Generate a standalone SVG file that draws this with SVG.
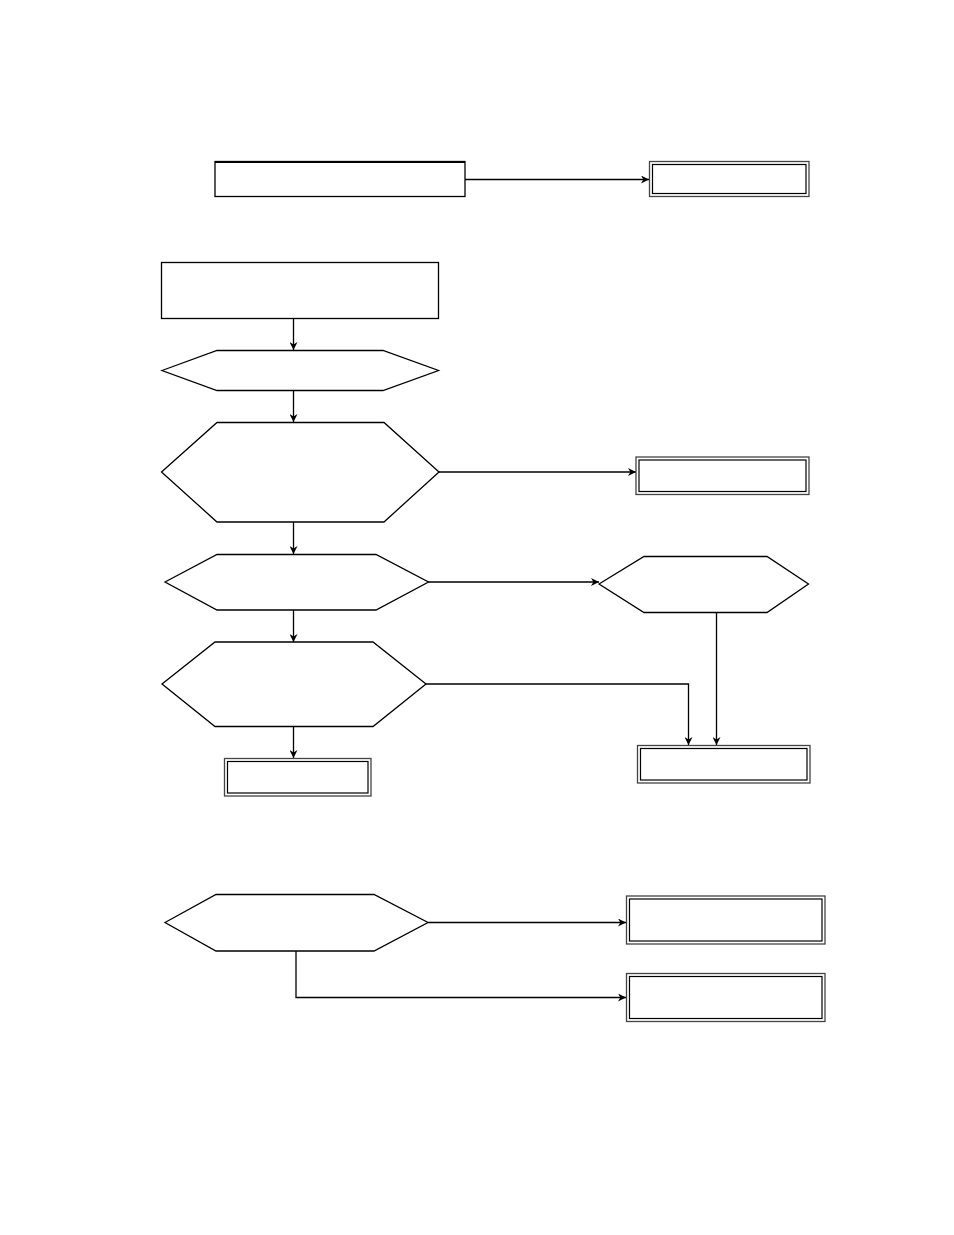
<svg xmlns="http://www.w3.org/2000/svg" width="954" height="1235" viewBox="0 0 954 1235">
<style>
.box{fill:#fff;stroke:#000;stroke-width:1.3}
.dbo{fill:#fff;stroke:#444;stroke-width:1.3}
.dbi{fill:none;stroke:#000;stroke-width:1.2}
.hex{fill:#fff;stroke:#000;stroke-width:1.3}
.con{fill:none;stroke:#000;stroke-width:1.3}
.arr{marker-end:url(#ah)}
</style>
<defs>
<marker id="ah" viewBox="0 0 10 10" refX="10" refY="5" markerWidth="8" markerHeight="8" markerUnits="userSpaceOnUse" orient="auto">
<path d="M0,0 L10,5 L0,10 L3,5 z" fill="#000"/>
</marker>
</defs>
<rect width="954" height="1235" fill="#fff"/>
<g id="connectors">
<path class="con arr" d="M465,179.5 H649"/>
<path class="con arr" d="M293.5,318 V350"/>
<path class="con arr" d="M293.5,390.5 V422"/>
<path class="con arr" d="M439,472 H636"/>
<path class="con arr" d="M293.5,522 V554"/>
<path class="con arr" d="M428,582 H599"/>
<path class="con arr" d="M716.5,612 V745"/>
<path class="con arr" d="M293.5,610 V642"/>
<path class="con arr" d="M426,684 H688.5 V745"/>
<path class="con arr" d="M293.5,726.5 V758"/>
<path class="con arr" d="M428,922.5 H626"/>
<path class="con arr" d="M296,951 V997.5 H626"/>
</g>
<g id="n1"><rect class="box" x="215" y="161.5" width="250" height="35"/><line x1="215" y1="162" x2="465" y2="162" stroke="#000" stroke-width="2.2"/></g>
<g id="n2"><rect class="dbo" x="649.5" y="161.5" width="159.5" height="35"/><rect class="dbi" x="652.5" y="164.5" width="153.5" height="29"/></g>
<g id="n3"><rect class="box" x="161.5" y="262.5" width="277" height="56"/></g>
<g id="n4"><polygon class="hex" points="162,370.5 217,350.5 383,350.5 438.5,370.5 383,390.5 217,390.5"/></g>
<g id="n5"><polygon class="hex" points="161.5,472 217,422.5 384,422.5 439,472 384,522 217,522"/></g>
<g id="n6"><rect class="dbo" x="636" y="457" width="173" height="37.5"/><rect class="dbi" x="639" y="460" width="167" height="31.5"/></g>
<g id="n7"><polygon class="hex" points="165,582 217,554.5 376,554.5 428.5,582 376,610 217,610"/></g>
<g id="n8"><polygon class="hex" points="599,584 644,556.5 767,556.5 808.5,584 767,612.5 644,612.5"/></g>
<g id="n9"><polygon class="hex" points="162,684 215,642 373,642 426,684 373,726.5 215,726.5"/></g>
<g id="n10"><rect class="dbo" x="224.5" y="758.5" width="146.5" height="37.5"/><rect class="dbi" x="227.5" y="761.5" width="140.5" height="31.5"/></g>
<g id="n11"><rect class="dbo" x="637.5" y="745.5" width="172.5" height="37.5"/><rect class="dbi" x="640.5" y="748.5" width="166.5" height="31.5"/></g>
<g id="n12"><polygon class="hex" points="165,922.5 216,894.5 374,894.5 428,922.5 374,951 216,951"/></g>
<g id="n13"><rect class="dbo" x="626.5" y="896" width="198.5" height="48"/><rect class="dbi" x="629.5" y="899" width="192.5" height="42"/></g>
<g id="n14"><rect class="dbo" x="626.5" y="973.5" width="198.5" height="48"/><rect class="dbi" x="629.5" y="976.5" width="192.5" height="42"/></g>
</svg>
